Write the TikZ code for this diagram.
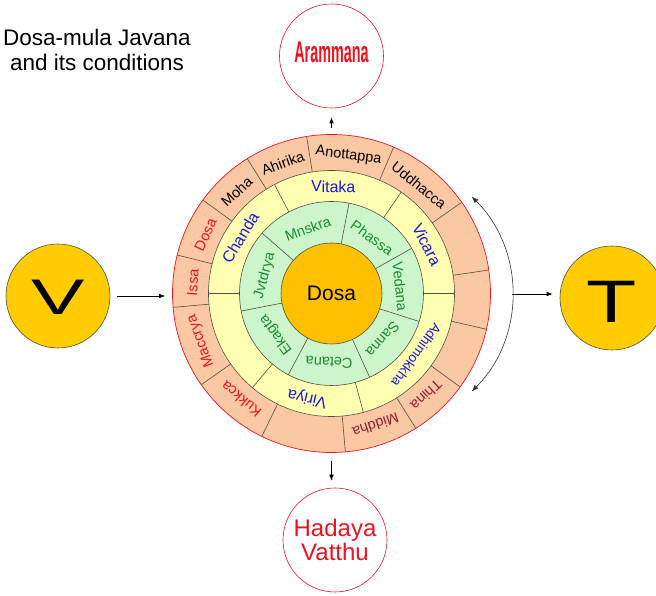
\documentclass[tikz,border=0pt]{standalone}
\usepackage{fontspec}
\setmainfont{Liberation Sans}
\usetikzlibrary{arrows.meta}
\definecolor{peach}{RGB}{250,200,162}
\definecolor{paleyellow}{RGB}{255,255,178}
\definecolor{palegreen}{RGB}{204,245,204}
\definecolor{coregold}{RGB}{255,192,0}
\definecolor{ballgold}{RGB}{255,204,0}
\definecolor{rimgray}{RGB}{80,80,64}
\definecolor{txtred}{RGB}{235,20,30}
\definecolor{txtmaroon}{RGB}{150,25,55}
\definecolor{txtblue}{RGB}{25,25,215}
\definecolor{txtgreen}{RGB}{25,140,45}

\begin{document}
\begin{tikzpicture}[x=1pt,y=1pt,
  rim/.style={draw=rimgray, line width=0.6pt},
  arr/.style={draw=black, line width=0.6pt, -{Latex[length=6pt,width=4.5pt]}},
  swing/.style={draw=black!80, line width=0.6pt, {Latex[length=7pt,width=5pt]}-{Latex[length=7pt,width=5pt]}},
  word/.style={inner sep=0pt},
  outerword/.style={word, font=\fontsize{14.5}{15}\selectfont},
  middleword/.style={word, font=\fontsize{16}{17}\selectfont, text=txtblue},
  innerword/.style={word, font=\fontsize{14.5}{15}\selectfont, text=txtgreen},
  bubble/.style={circle, minimum size=104pt, inner sep=0pt, draw=txtred, line width=0.6pt, fill=white},
  ball/.style={circle, minimum size=104pt, inner sep=0pt, draw=rimgray, line width=0.6pt, fill=ballgold},
]
\useasboundingbox (0,0) rectangle (656,596);
\coordinate (C) at (331.5,302.5);

% concentric rings
\fill[peach] (C) circle[radius=159pt];
\fill[paleyellow] (C) circle[radius=123pt];
\draw[rim] (C) circle[radius=123pt];
\fill[palegreen] (C) circle[radius=92pt];
\draw[rim] (C) circle[radius=92pt];

% sector dividers
\foreach \a in {185,166,144,122,99,67,35,8.5,-13,-36,-58,-85,-116,-145}
  \draw[rim] ([shift={(\a:123pt)}]C) -- ([shift={(\a:159pt)}]C);
\foreach \a in {0,55.5,117.6,180,230,-75}
  \draw[rim] ([shift={(\a:92pt)}]C) -- ([shift={(\a:123pt)}]C);
\foreach \a in {29.4,79,139,191,242,294.5,342.3}
  \draw[rim] ([shift={(\a:50.5pt)}]C) -- ([shift={(\a:92pt)}]C);

\node[circle, minimum size=101pt, inner sep=0pt, fill=coregold, draw=rimgray,
      line width=0.6pt, font=\fontsize{21}{22}\selectfont] (core) at (C) {Dosa};
\node[circle, minimum size=318pt, inner sep=0pt, draw=txtred, line width=0.7pt] (ring) at (C) {};

% outer ring words
\foreach \a/\w/\c [count=\i] in {175.5/Issa/txtred, 155/Dosa/txtred, 133/Moha/black,
    110.5/Ahirika/black, 83/Anottappa/black, 51/Uddhacca/black, -47/Thina/txtmaroon,
    -71.5/Middha/txtmaroon, -130.5/Kukkca/txtred, -160/Maccrya/txtred}
  \node[outerword, text=\c, rotate=\a-90] (o\i) at ([shift={(\a:139pt)}]C) {\w};

% middle ring words
\foreach \a/\w [count=\i] in {27/Vicara, 89/Vitaka, 148.5/Chanda, -103/Viriya}
  \node[middleword, rotate=\a-90] (m\i) at ([shift={(\a:107pt)}]C) {\w};
\node[middleword, font=\fontsize{13.5}{14}\selectfont, rotate=-126] (m5)
  at ([shift={(-36:105pt)}]C) {Adhimokkha};

% inner ring words
\foreach \a/\w [count=\i] in {54/Phassa, 110/Mnskra, 165/Jvtdrya, 216.5/Ekagta,
    268/Cetana, 318/Sanna, 6/Vedana}
  \node[innerword, rotate=\a-90] (g\i) at ([shift={(\a:69pt)}]C) {\w};

% title
\node[align=center, inner sep=0pt, anchor=north, font=\fontsize{22.5}{25}\selectfont]
  (title) at (97,566.5) {Dosa-mula Javana\\and its conditions};

% surrounding circles
\node[bubble] (aram) at (331.5,540) {};
\node[text=txtred, inner sep=0pt] (aramtext) at (331.5,543.5)
  {\scalebox{0.48}[1]{\fontsize{30}{31}\selectfont\bfseries Arammana}};
\node[bubble, text=txtred, align=center, font=\fontsize{24}{22}\selectfont]
  (hadaya) at (335,56) {Hadaya\\Vatthu};
\node[ball] (V) at (58,300) {};
\node[inner sep=0pt] (vtext) at (58,299) {\scalebox{1.6}[1]{\fontsize{50}{50}\selectfont V}};
\node[ball] (T) at (612,298) {};
\node[inner sep=0pt] (ttext) at (612,294.5) {\scalebox{1.37}[1]{\fontsize{60}{60}\selectfont T}};

% connectors
\draw[arr, shorten <=7pt, shorten >=7pt] (V) -- (V -| ring.west);
\draw[arr, shorten <=6.5pt, shorten >=9pt] (ring.north) -- (ring.north |- aram.south);
\draw[arr, shorten <=8.5pt, shorten >=7pt] (ring.south) -- (ring.south |- hadaya.north);
\coordinate (pivot) at (374,302);
\draw[swing] ([shift={(45:138pt)}]pivot) arc[start angle=45, end angle=-45, radius=138pt];
\coordinate (arcmid) at ([shift={(0:138pt)}]pivot);
\draw[arr, shorten >=7pt] (arcmid) -- (arcmid -| T.west);
\end{tikzpicture}
\end{document}
